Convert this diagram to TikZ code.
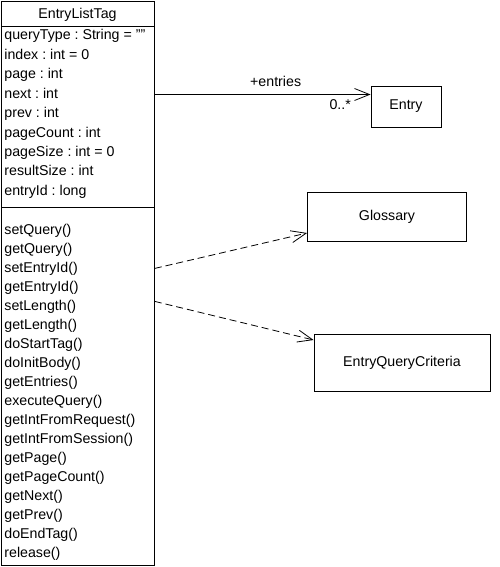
\documentclass[tikz,border=0pt]{standalone}
\usepackage{fontspec}
\setmainfont{Liberation Sans}
\usetikzlibrary{arrows.meta,positioning}
\frenchspacing
\begin{document}
\begin{tikzpicture}[x=1pt,y=-1pt,line width=0.8pt,
  font=\fontsize{14.2}{16}\selectfont,
  classbox/.style={draw,inner sep=0pt},
  member/.style={anchor=base west,inner sep=0pt},
  assoc/.style={-{Straight Barb[length=15pt,width=12pt]}},
  depend/.style={dash pattern=on 7pt off 4pt,-{Straight Barb[length=15pt,width=12pt]}}]
\useasboundingbox (0,0) rectangle (500,567);
\node[classbox,minimum width=153pt,minimum height=564pt,anchor=north west] (tag) at (1,1) {};
\node[anchor=base,inner sep=0pt] (title) at (77.5,18.5) {EntryListTag};
\coordinate (sepa) at (1,26);
\coordinate (sepb) at (1,207);
\draw (sepa) -- (sepa -| tag.east);
\draw (sepb) -- (sepb -| tag.east);
\node[member] (a1) at (4,40) {queryType : String = ""};
\node[member] (a2) at (4,59.4) {index : int = 0};
\node[member] (a3) at (4,78.8) {page : int};
\node[member] (a4) at (4,98.2) {next : int};
\node[member] (a5) at (4,117.6) {prev : int};
\node[member] (a6) at (4,137) {pageCount : int};
\node[member] (a7) at (4,156.4) {pageSize : int = 0};
\node[member] (a8) at (4,175.8) {resultSize : int};
\node[member] (a9) at (4,195.2) {entryId : long};
\node[member] (m1) at (4,234) {setQuery()};
\node[member] (m2) at (4,253) {getQuery()};
\node[member] (m3) at (4,272) {setEntryId()};
\node[member] (m4) at (4,291) {getEntryId()};
\node[member] (m5) at (4,310) {setLength()};
\node[member] (m6) at (4,329) {getLength()};
\node[member] (m7) at (4,348) {doStartTag()};
\node[member] (m8) at (4,367) {doInitBody()};
\node[member] (m9) at (4,386) {getEntries()};
\node[member] (m10) at (4,405) {executeQuery()};
\node[member] (m11) at (4,424) {getIntFromRequest()};
\node[member] (m12) at (4,443) {getIntFromSession()};
\node[member] (m13) at (4,462) {getPage()};
\node[member] (m14) at (4,481) {getPageCount()};
\node[member] (m15) at (4,500) {getNext()};
\node[member] (m16) at (4,519) {getPrev()};
\node[member] (m17) at (4,538) {doEndTag()};
\node[member] (m18) at (4,557) {release()};
\node[classbox,minimum width=70pt,minimum height=41pt] (entry) at (406,106.5) {Entry};
\node[classbox,minimum width=159pt,minimum height=49pt] (gloss) at (387,216.5) {Glossary};
\node[classbox,minimum width=176pt,minimum height=57pt] (crit) at (402,362.5) {EntryQueryCriteria};
\coordinate (entryin) at ([yshift=12pt]entry.west);
\draw[assoc] (entryin -| tag.east) -- (entryin)
  node[pos=0.56,above=4pt] {+entries}
  node[pos=1,below left=1pt and 16pt] {0..*};
\draw[depend] ([yshift=15pt]tag.east) -- ([yshift=-16.5pt]gloss.west);
\draw[depend] ([yshift=-18pt]tag.east) -- ([yshift=22.5pt]crit.west);
\end{tikzpicture}
\end{document}
